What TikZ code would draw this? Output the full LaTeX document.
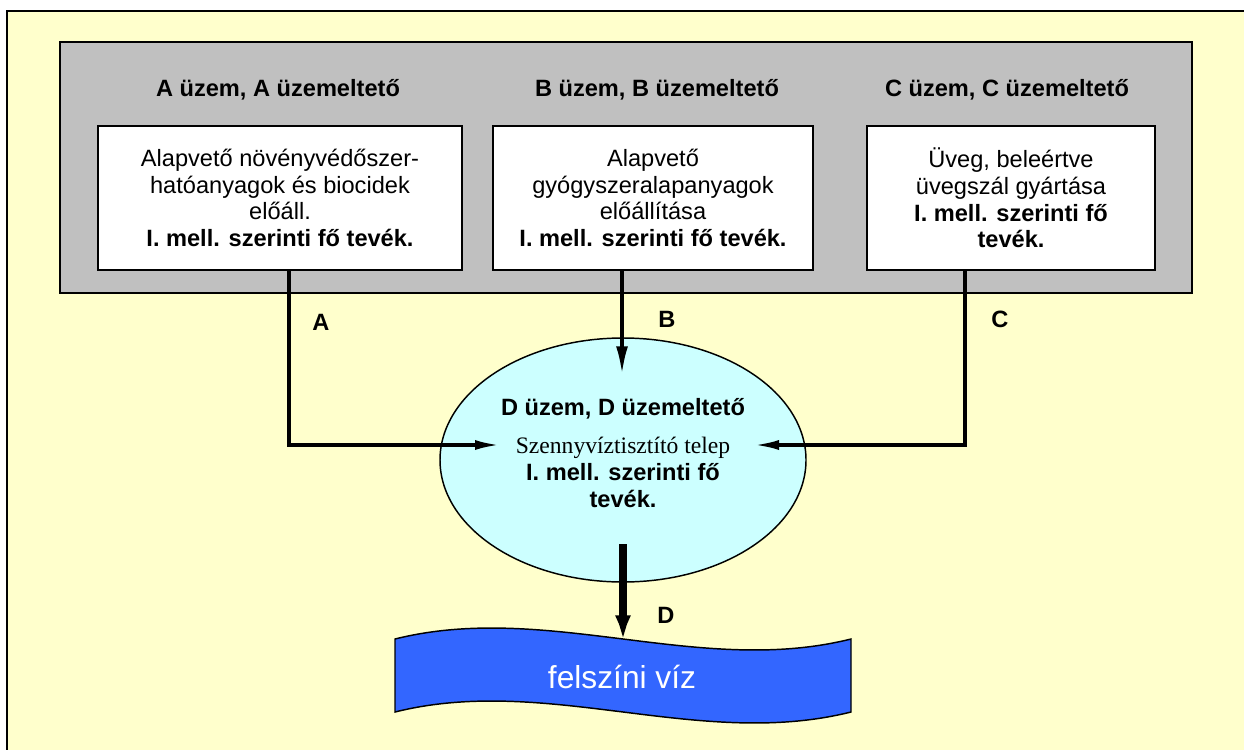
\documentclass[tikz,border=0pt]{standalone}
\usepackage{fontspec}
\setmainfont{Liberation Sans}
\newfontfamily\seriffont{Liberation Serif}
\usetikzlibrary{arrows.meta,calc,shapes.geometric}
\definecolor{bgyellow}{HTML}{FFFFCC}
\definecolor{boxgray}{HTML}{C0C0C0}
\definecolor{ellcyan}{HTML}{CCFFFF}
\definecolor{riverblue}{HTML}{3366FF}
\begin{document}
\begin{tikzpicture}[x=0.75pt,y=-0.75pt,
  every node/.style={font=\fontsize{17.7}{20}\selectfont},
  plantbox/.style={draw=black,fill=white,line width=1.1pt,align=center,inner sep=0pt,minimum height=108pt},
  hdr/.style={font=\fontsize{17.7}{20}\selectfont\bfseries},
  lbl/.style={font=\fontsize{17.7}{20}\selectfont\bfseries},
  flow/.style={line width=2.5pt},
  tipsmall/.style={-{Latex[length=18.75pt,width=7.5pt]}},
  tipbig/.style={-{Latex[length=21pt,width=9pt]}}]
\useasboundingbox (0,0) rectangle (1244,749);
\clip (0,0) rectangle (1244,749);
\fill[white] (0,0) rectangle (1244,749);
\draw[fill=bgyellow,line width=1.5pt] (7,11) rectangle (1275,785);
% gray container
\node[draw=black,fill=boxgray,line width=1.1pt,minimum width=849pt,minimum height=188.25pt,inner sep=0pt] (group) at (626,167.5) {};
% headers
\node[hdr] (hA) at (278,90) {A üzem, A üzemeltető};
\node[hdr] (hB) at (657,90) {B üzem, B üzemeltető};
\node[hdr] (hC) at (1007,90) {C üzem, C üzemeltető};
% plant boxes
\node[plantbox,minimum width=273pt] (boxA) at (280,198)
  {Alapvető növényvédőszer-\\hatóanyagok és biocidek\\előáll.\\\textbf{I. mell. szerinti fő tevék.}};
\node[plantbox,minimum width=240pt] (boxB) at (653,198)
  {Alapvető\\gyógyszeralapanyagok\\előállítása\\\textbf{I. mell. szerinti fő tevék.}};
\node[plantbox,minimum width=216pt] (boxC) at (1011,198)
  {Üveg, beleértve\\üvegszál gyártása\\\textbf{I. mell. szerinti fő}\\\textbf{tevék.}};
% ellipse
\node[ellipse,draw=black,fill=ellcyan,line width=1.1pt,minimum width=274.5pt,minimum height=183pt,inner sep=0pt] (ell) at (623,460) {};
\node[align=center,font=\fontsize{17.7}{20.5}\selectfont] (elltext) at (623,453)
  {\textbf{D üzem, D üzemeltető}\\[8pt]{\seriffont Szennyvíztisztító telep}\\\textbf{I. mell. szerinti fő}\\\textbf{tevék.}};
% river
\draw[fill=riverblue,line width=1.1pt] (395,639) .. controls (547,601) and (699,677) .. (851,639)
  -- (851,712) .. controls (699,750) and (547,674) .. (395,712) -- cycle;
\coordinate (rivertop) at (623,650);
\node[text=white,font=\fontsize{23.8}{26}\selectfont] (rivertext) at (622,677) {felszíni víz};
% connectors
\draw[flow,tipsmall] ($(boxA.south)+(9,0)$) |- ($(ell.center)+(-123,-15)$);
\draw[flow,tipbig] ($(boxB.south)+(-31,0)$) -- ($(ell.north)+(-1,37)$);
\draw[flow,tipsmall] ($(boxC.south)+(-46,0)$) |- ($(ell.center)+(131,-15)$);
\draw[line width=6pt,-{Latex[length=26pt,width=11pt]}] ($(ell.center)+(0,84)$) -- (rivertop);
% labels
\node[lbl] (lA) at (321,322) {A};
\node[lbl] (lB) at (667,319) {B};
\node[lbl] (lC) at (1000,319) {C};
\node[lbl] (lD) at (666,615) {D};
\end{tikzpicture}
\end{document}
